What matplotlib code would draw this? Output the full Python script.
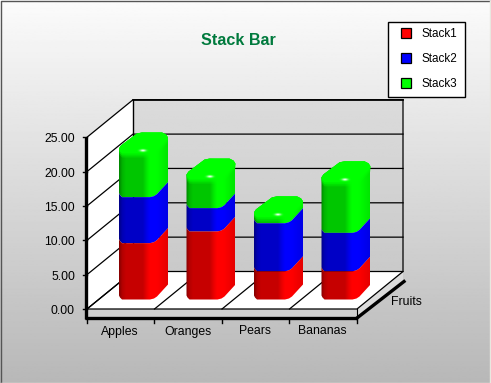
import numpy as np
import matplotlib
matplotlib.use('Agg')
import matplotlib.pyplot as plt
from matplotlib.patches import Polygon, Rectangle

plt.rcParams['font.family'] = ['Liberation Sans', 'DejaVu Sans']

categories = ['Apples', 'Oranges', 'Pears', 'Bananas']
stack1 = [8.2, 9.9, 4.1, 4.1]
stack2 = [6.7, 3.4, 7.0, 5.6]
stack3 = [6.5, 4.3, 1.0, 7.5]
series_names = ['Stack1', 'Stack2', 'Stack3']
series_colors = [(1, 0, 0), (0, 0, 1), (0, 1, 0)]
y_ticks = [0, 5, 10, 15, 20, 25]

W, H = 491, 383
# chart geometry in pixels
X0, X1 = 87, 357
Y0 = 309
PX_PER_UNIT = 6.87
DX, DY = 46, -37.5
SLAB = 9
BAR_W = 49
BAR_LIFT = 9.5
BAR_OFFSET = 32


def vy(v):
    return Y0 - v * PX_PER_UNIT


# front outline of a bar section, u = px from bar's left edge, up = px upward
front_u = np.array([0, 1, 3, 31, 35, 38, 49])
front_up = np.array([4, 2, 0, 0, 1, 3, 15])
# back outline of the cap
back_u = np.array([0, 2, 18, 23, 43, 47, 49])
back_up = np.array([4, 7, 19, 20, 20, 18, 15])

fig = plt.figure(figsize=(W / 100, H / 100), dpi=100)
ax = fig.add_axes([0, 0, 1, 1])
ax.axis('off')

# background gradient
bg = np.linspace(0.985, 0.72, 256).reshape(-1, 1)
ax.imshow(bg, extent=[0, W, H, 0], cmap='gray', vmin=0, vmax=1, aspect='auto', zorder=0)
ax.plot([0.5, 0.5, W - 0.5], [H - 0.5, 0.5, 0.5], color='#555555', lw=1, zorder=1)
ax.plot([0.5, W - 0.5, W - 0.5], [H - 0.5, H - 0.5, 0.5], color='#e8e8e0', lw=1, zorder=1)

# back wall
ax.imshow(np.linspace(0.86, 0.79, 64).reshape(-1, 1),
          extent=[X0 + DX, X1 + DX, vy(0) + DY, vy(25) + DY],
          cmap='gray', vmin=0, vmax=1, aspect='auto', zorder=1)
# left wall, floor and slab
ax.add_patch(Polygon([(X0, vy(25)), (X0 + DX, vy(25) + DY), (X0 + DX, Y0 + DY), (X0, Y0)],
                     fc='white', ec='none', zorder=2))
ax.add_patch(Polygon([(X0, Y0), (X1, Y0), (X1 + DX, Y0 + DY), (X0 + DX, Y0 + DY)],
                     fc='white', ec='none', zorder=2))
ax.add_patch(Polygon([(X0, Y0), (X1, Y0), (X1, Y0 + SLAB), (X0, Y0 + SLAB)],
                     fc='#d0d0d0', ec='none', zorder=2))
ax.add_patch(Polygon([(X1, Y0), (X1 + DX, Y0 + DY), (X1 + DX, Y0 + DY + SLAB), (X1, Y0 + SLAB)],
                     fc='#dcdcdc', ec='none', zorder=2))

# grid lines
for t in y_ticks:
    y = vy(t)
    ax.plot([X0, X0 + DX, X1 + DX], [y, y + DY, y + DY], color='black', lw=0.9, zorder=3)
    ax.plot([X0 - 4, X0], [y, y], color='black', lw=1, zorder=3)
    ax.text(X0 - 12, y + 2, '%.2f' % t, ha='right', va='center', fontsize=8.8, zorder=6)
ax.plot([X0, X1, X1 + DX, X1 + DX], [Y0, Y0, Y0 + DY, vy(25) + DY], color='black', lw=0.9, zorder=3)
ax.plot([X0 + DX, X0 + DX], [vy(25) + DY, Y0 + DY], color='black', lw=1, zorder=3)
ax.plot([X0 + DX, X1 + DX], [vy(25) + DY, vy(25) + DY], color='black', lw=1.2, zorder=3)
ax.plot([X1, X1], [Y0, Y0 + SLAB], color='black', lw=0.8, zorder=3)

slot = (X1 - X0) / len(categories)
for i in range(len(categories)):
    x = X0 + i * slot
    ax.plot([x, x + DX], [Y0, Y0 + DY], color='black', lw=0.9, zorder=3)
    ax.plot([x, x], [Y0 + SLAB, Y0 + SLAB + 5], color='black', lw=1, zorder=5)
    ax.text(x + slot / 2 - 0.5, Y0 + 22.5, categories[i], ha='center', va='center', fontsize=8.8, zorder=6)
ax.plot([X1, X1], [Y0 + SLAB, Y0 + SLAB + 5], color='black', lw=1, zorder=5)

# thick axes
ax.plot([X0 - 1, X0 - 1], [vy(25), Y0 + SLAB + 1], color='black', lw=2.4, zorder=5, solid_capstyle='butt')
ax.plot([X0 - 2, X1], [Y0 + SLAB, Y0 + SLAB], color='black', lw=2.4, zorder=5, solid_capstyle='butt')
ax.plot([X1, X1 + DX + 1], [Y0 + SLAB, Y0 + DY + SLAB + 1], color='black', lw=2.4, zorder=5)
ax.text(391, 302, 'Fruits', ha='left', va='center', fontsize=8.8, zorder=6)

# column shading of the round bars, dark on the left, bright towards the right
shade_u = np.array([0, 3, 7, 24, 28, 31, 38, 49])
shade_v = np.array([0.52, 0.70, 0.78, 0.78, 0.92, 1.0, 1.0, 0.90])

# soft highlight sprite
gx, gy = np.meshgrid(np.linspace(-1, 1, 40), np.linspace(-1, 1, 16))
glow = np.ones((16, 40, 4))
glow[..., 3] = np.exp(-(gx ** 2 / 0.15 + gy ** 2 / 0.12))


def draw_section(left, bottom, top, color, zorder, cap=False):
    us = np.arange(0, BAR_W + 0.5, 0.5)
    shade = np.interp(us, shade_u, shade_v)
    img = np.array(color)[None, None, :] * shade[None, :, None]
    lo = np.interp(us, front_u, front_up)
    hi = np.interp(us, back_u, back_up) if cap else lo
    y_bot = vy(bottom) - BAR_LIFT
    y_top = vy(top) - BAR_LIFT
    pts = [(left + u, y_bot - b) for u, b in zip(us, lo)]
    pts += [(left + u, y_top - t) for u, t in zip(us[::-1], hi[::-1])]
    im = ax.imshow(img, extent=[left, left + BAR_W, H, 0], aspect='auto', zorder=zorder)
    im.set_clip_path(Polygon(pts, transform=ax.transData))
    if cap:
        # the lit top of the bar, feathered into the front face
        for drop, alpha in [(5, 0.35), (3, 0.6), (1, 1.0)]:
            cap_pts = [(left + u, y_top - b + drop) for u, b in zip(us, lo)]
            cap_pts += [(left + u, y_top - t) for u, t in zip(us[::-1], hi[::-1])]
            ax.add_patch(Polygon(cap_pts, fc=color, ec='none', alpha=alpha, zorder=zorder + 0.1))
        ax.imshow(glow, extent=[left + 16, left + 32, y_top + 1.5, y_top - 5.5], aspect='auto',
                  zorder=zorder + 0.2)


for i in range(len(categories)):
    left = X0 + i * slot + BAR_OFFSET
    # drawn top section first, each lower section overlaps the one above it
    s1, s2, s3 = stack1[i], stack2[i], stack3[i]
    draw_section(left, s1 + s2, s1 + s2 + s3, series_colors[2], 4.3, cap=True)
    draw_section(left, s1, s1 + s2, series_colors[1], 4.4)
    draw_section(left, 0, s1, series_colors[0], 4.5)

ax.set_xlim(0, W)
ax.set_ylim(H, 0)

# title
ax.text(238, 40.5, 'Stack Bar', ha='center', va='center', fontsize=11.6, fontweight='bold',
        color='#007a3d', zorder=6)

# legend
ax.add_patch(Rectangle((388.5, 21.5), 77, 75, fc='white', ec='black', lw=1, zorder=6))
for i, name in enumerate(series_names):
    y = 32.5 + i * 25
    ax.add_patch(Rectangle((401.5, y - 5), 10, 10, fc=series_colors[i], ec='black', lw=0.9, zorder=7))
    ax.text(422, y + 1.5, name, ha='left', va='center', fontsize=8.4, zorder=7)

fig.savefig('out.png', dpi=100)
